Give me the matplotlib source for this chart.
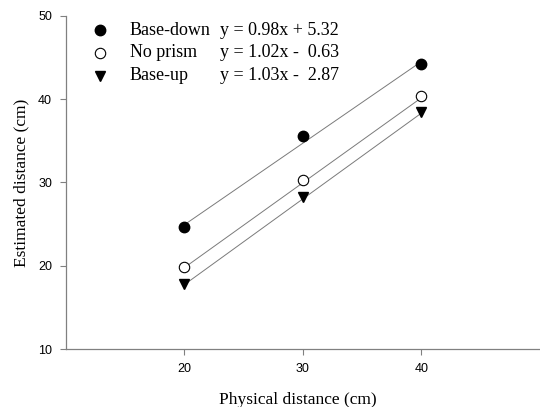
import numpy as np
import matplotlib
matplotlib.use('Agg')
import matplotlib.pyplot as plt

# data
physical = [20, 30, 40]
base_down = [24.6, 35.6, 44.2]
no_prism = [19.9, 30.3, 40.4]
base_up = [17.8, 28.2, 38.4]

names = ['Base-down', 'No prism', 'Base-up']
slopes = [0.98, 1.02, 1.03]
intercepts = [5.32, -0.63, -2.87]
equations = ['y = 0.98x + 5.32', 'y = 1.02x -  0.63', 'y = 1.03x -  2.87']

xticks = [20, 30, 40]
yticks = [10, 20, 30, 40, 50]

serif = ['Liberation Serif', 'DejaVu Serif']
sans = ['Liberation Sans', 'DejaVu Sans']


def main():
    fig = plt.figure(figsize=(5.4, 4.07), dpi=100)
    ax = fig.add_axes([0.122, 0.1425, 0.878, 0.8185])

    series = [base_down, no_prism, base_up]
    styles = [dict(marker='o', mfc='black', mec='black', ms=7.5),
              dict(marker='o', mfc='white', mec='black', ms=7.5, mew=0.8),
              dict(marker='v', mfc='black', mec='black', ms=7.5)]

    xs = np.array([physical[0], physical[-1]])
    for vals, st, m, b in zip(series, styles, slopes, intercepts):
        ax.plot(xs, m * xs + b, color='#7a7a7a', lw=0.7, zorder=1)
        ax.plot(physical, vals, ls='none', zorder=3, **st)

    # legend block drawn by hand so the equations line up
    for i, (name, eq, st) in enumerate(zip(names, equations, styles)):
        yy = 0.957 - i * 0.068
        ax.plot([0.072], [yy], transform=ax.transAxes, ls='none',
                clip_on=False, **st)
        ax.text(0.135, yy, name, transform=ax.transAxes, va='center',
                ha='left', fontsize=13, family=serif)
        ax.text(0.325, yy, eq, transform=ax.transAxes, va='center',
                ha='left', fontsize=13, family=serif)

    ax.set_xlim(10, 50)
    ax.set_ylim(10, 50)
    ax.set_xticks(xticks)
    ax.set_yticks(yticks)
    for lab in ax.get_xticklabels() + ax.get_yticklabels():
        lab.set_family(sans)
        lab.set_fontsize(9)
    ax.tick_params(direction='out', length=4, width=0.8, color='#808080',
                   pad=6)
    for s in ['top', 'right']:
        ax.spines[s].set_visible(False)
    for s in ['left', 'bottom']:
        ax.spines[s].set_color('#808080')
        ax.spines[s].set_linewidth(0.9)

    ax.set_xlabel('Physical distance (cm)', fontsize=12.5, family=serif,
                  labelpad=11)
    ax.set_ylabel('Estimated distance (cm)', fontsize=12.5, family=serif,
                  labelpad=6)
    ax.xaxis.set_label_coords(0.49, -0.13)

    fig.savefig('out.png', dpi=100)


if __name__ == '__main__':
    main()
